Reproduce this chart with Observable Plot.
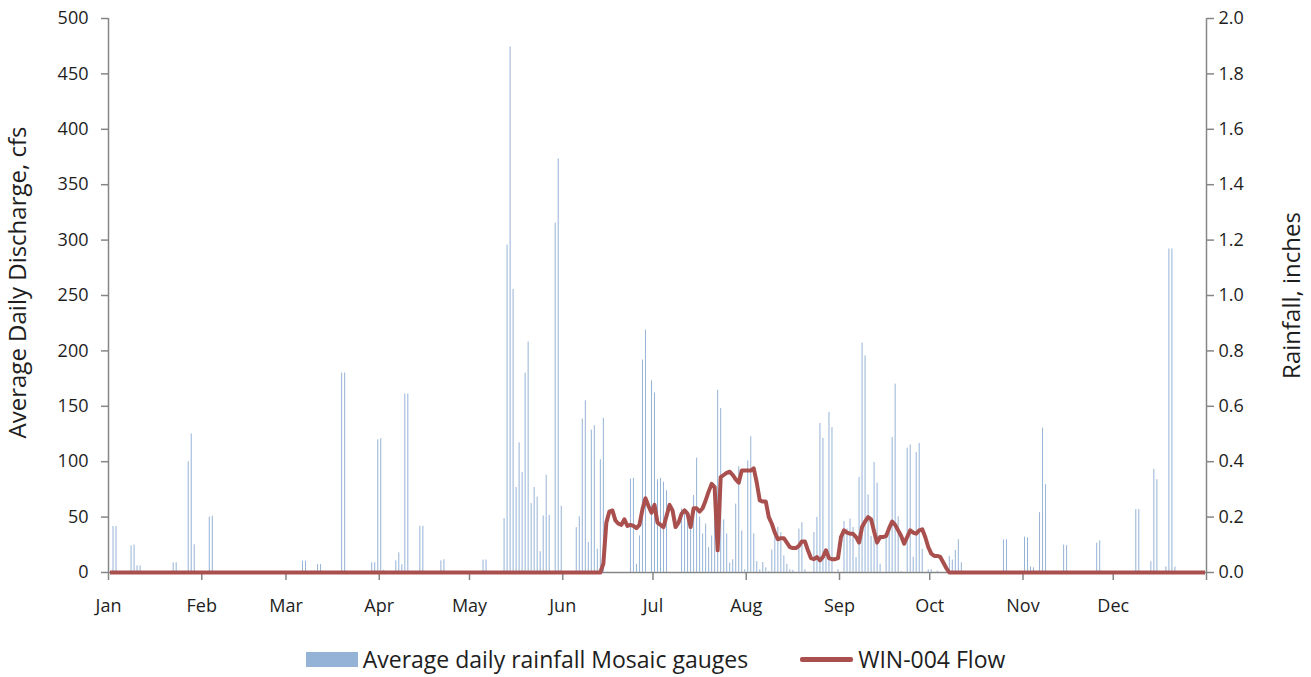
<!DOCTYPE html>
<html>
<head>
<meta charset="utf-8">
<script src="https://cdn.jsdelivr.net/npm/d3@7"></script>
<script src="https://cdn.jsdelivr.net/npm/@observablehq/plot@0.6"></script>
<style>
  html, body { margin: 0; padding: 0; background: #fff; }
  #wrap { position: relative; width: 1311px; height: 677px; font-family: "Open Sans", Lato, sans-serif; color: #1e1e1e; }
  .legend { position: absolute; left: 0; top: 645px; width: 1311px; display: flex; justify-content: center; gap: 52px; font-size: 23px; line-height: 28px; }
  .item { display: flex; align-items: center; gap: 5px; }
  .sw-bar { width: 52px; height: 15px; background: #95b3d7; }
  .sw-line { width: 53px; height: 5px; background: #a9504e; border-radius: 2px; }
</style>
</head>
<body>
<div id="wrap"></div>
<script>
// Year of record (non-leap, 365 daily values)
const year = 2015;

// Daily rainfall (inches), Mosaic gauge average; day index 0 = Jan 1, days not listed had no rain
const rainDay = [
  1, 2, 7, 8, 9, 10, 21, 22, 26, 27, 28, 33, 34,
  64, 65, 67, 68, 69, 70, 77, 78, 87, 88, 89, 90, 91, 95, 96, 97, 98, 99, 103, 104, 110, 111,
  124, 125, 131, 132, 133, 134, 135, 136, 137, 138, 139, 140, 141, 142, 143, 144, 145, 146, 148, 149, 150,
  155, 156, 157, 158, 159, 160, 161, 162, 163, 164,
  173, 174, 175, 176, 177, 178, 180, 181, 182, 183, 184, 185,
  190, 191, 192, 193, 194, 195, 196, 197, 198, 199, 200, 201, 202, 203, 204, 205, 206, 207, 208, 209, 210,
  211, 212, 213, 214, 215, 216, 217, 218, 219, 220, 221, 222, 223, 224, 225, 226, 227, 229, 230, 231,
  234, 235, 236, 237, 238, 239, 240, 242, 244, 245, 246, 247, 248, 249, 250, 251, 252, 253, 254, 255, 256,
  258, 259, 260, 261, 262, 263, 265, 266, 267, 268, 269, 270, 272, 273, 275, 279, 280, 281, 282, 283,
  297, 298, 304, 305, 306, 307, 309, 310, 311, 317, 318, 328, 329, 341, 342, 346, 347, 348, 351, 352, 353, 354
];
const rainInches = [
  0.166, 0.166, 0.096, 0.099, 0.024, 0.024, 0.035, 0.035, 0.40, 0.50, 0.10, 0.20, 0.203,
  0.041, 0.041, 0.005, 0.005, 0.029, 0.029, 0.72, 0.72, 0.035, 0.035, 0.479, 0.483, 0.008, 0.042, 0.071, 0.028, 0.644, 0.644, 0.167, 0.167, 0.042, 0.046,
  0.045, 0.045, 0.195, 1.182, 1.897, 1.022, 0.307, 0.468, 0.361, 0.719, 0.832, 0.249, 0.307, 0.272, 0.075, 0.204, 0.351, 0.206, 1.261, 1.493, 0.239,
  0.162, 0.201, 0.554, 0.62, 0.108, 0.514, 0.53, 0.084, 0.407, 0.557,
  0.337, 0.34, 0.03, 0.132, 0.767, 0.875, 0.692, 0.648, 0.335, 0.34, 0.326, 0.295,
  0.229, 0.229, 0.221, 0.193, 0.278, 0.413, 0.2, 0.139, 0.175, 0.09, 0.132, 0.253, 0.658, 0.592, 0.19, 0.139, 0.034, 0.046, 0.247, 0.382, 0.15,
  0.01, 0.403, 0.49, 0.139, 0.039, 0.01, 0.036, 0.017, 0.003, 0.081, 0.139, 0.163, 0.144, 0.06, 0.03, 0.01, 0.008, 0.157, 0.18, 0.01,
  0.144, 0.199, 0.538, 0.484, 0.055, 0.578, 0.523, 0.01, 0.184, 0.157, 0.193, 0.163, 0.054, 0.343, 0.828, 0.782, 0.28, 0.13, 0.397, 0.323, 0.03,
  0.13, 0.144, 0.487, 0.68, 0.201, 0.003, 0.449, 0.46, 0.055, 0.433, 0.466, 0.084, 0.01, 0.01, 0.005, 0.058, 0.045, 0.08, 0.118, 0.035,
  0.118, 0.118, 0.128, 0.125, 0.02, 0.017, 0.216, 0.521, 0.317, 0.099, 0.097, 0.106, 0.114, 0.227, 0.227, 0.039, 0.373, 0.335, 0.02, 1.168, 1.168, 0.02
];

// WIN-004 average daily discharge (cfs) from day index flowStartDay onward; zero flow on all other days
const flowStartDay = 163;
const flowCfs = [
  0, 8, 45, 55, 56, 47, 44, 43, 48, 42, 43, 42, 40, 43, 57, 67, 60, 54, 61, 45,
  43, 41, 51, 61, 56, 41, 45, 53, 56, 53, 41, 58, 58, 55, 58, 65, 73, 80, 77, 20,
  86, 88, 90, 91, 88, 84, 81, 92, 92, 92, 92, 94, 81, 65, 64, 64, 50, 44, 36, 30,
  31, 31, 27, 23, 22, 22, 24, 28, 28, 20, 13, 12, 14, 11, 14, 20, 13, 12, 12, 13,
  32, 38, 36, 35, 35, 32, 27, 41, 46, 50, 48, 37, 27, 32, 32, 33, 40, 46, 43, 38,
  33, 26, 32, 38, 36, 35, 38, 39, 32, 23, 17, 15, 15, 14, 9, 4, 0
];

// Axis ticks and labels
const monthLabels = ["Jan", "Feb", "Mar", "Apr", "May", "Jun", "Jul", "Aug", "Sep", "Oct", "Nov", "Dec"];
const dischargeTicks = [0, 50, 100, 150, 200, 250, 300, 350, 400, 450, 500];
const rainfallTicks = [0, 0.2, 0.4, 0.6, 0.8, 1.0, 1.2, 1.4, 1.6, 1.8, 2.0];
const cfsPerInch = 250; // 2.0 in on the right axis spans the same height as 500 cfs on the left

const yearStart = new Date(Date.UTC(year, 0, 1));
const yearEnd = new Date(Date.UTC(year + 1, 0, 1));
const nDays = 365;
const dayDate = i => new Date(Date.UTC(year, 0, 1 + i, 12));

const rain = rainDay.map((d, k) => ({date: dayDate(d), inches: rainInches[k]}));
const flow = d3.range(nDays).map(i => {
  const k = i - flowStartDay;
  return {date: dayDate(i), cfs: k >= 0 && k < flowCfs.length ? flowCfs[k] : 0};
});

const axisGray = "#868686";
const textColor = "#1e1e1e";
const font = "'Open Sans', Lato, sans-serif";
const tickFont = 18;
const titleFont = 24;

const chart = Plot.plot({
  width: 1311,
  height: 630,
  marginTop: 18,
  marginBottom: 58,
  marginLeft: 108,
  marginRight: 105,
  style: {fontFamily: font, fontSize: tickFont + "px", color: textColor, background: "#fff"},
  x: {type: "utc", domain: [yearStart, yearEnd]},
  y: {domain: [0, 500]},
  marks: [
    // frame edges: left and right value axes, date axis
    Plot.ruleX([yearStart, yearEnd], {stroke: axisGray, strokeWidth: 1.5}),
    Plot.ruleY([0], {stroke: axisGray, strokeWidth: 1.5}),
    Plot.axisY({
      anchor: "left", ticks: dischargeTicks, tickSize: 7, tickPadding: 13,
      stroke: axisGray, fill: textColor, strokeWidth: 1.5, label: null, fontSize: tickFont
    }),
    Plot.axisY({
      anchor: "right", ticks: rainfallTicks.map(v => v * cfsPerInch), tickSize: 7, tickPadding: 5,
      tickFormat: v => (v / cfsPerInch).toFixed(1),
      stroke: axisGray, fill: textColor, strokeWidth: 1.5, label: null, fontSize: tickFont
    }),
    Plot.axisX({
      ticks: d3.utcMonths(yearStart, new Date(Date.UTC(year + 1, 0, 2))),
      tickFormat: d => d.getUTCFullYear() === year ? monthLabels[d.getUTCMonth()] : "",
      tickSize: 8, tickPadding: 19, stroke: axisGray, fill: textColor, strokeWidth: 1.5,
      label: null, fontSize: tickFont
    }),
    // daily rainfall, drawn against the right (inches) axis
    Plot.ruleX(rain, {x: "date", y1: 0, y2: d => d.inches * cfsPerInch, stroke: "#95b3d7", strokeWidth: 1}),
    // daily discharge
    Plot.line(flow, {x: "date", y: "cfs", stroke: "#a9504e", strokeWidth: 4, strokeLinejoin: "round", strokeLinecap: "butt"}),
    // axis titles
    Plot.text(["Average Daily Discharge, cfs"], {frameAnchor: "left", dx: -90, dy: -13, rotate: -90, fontSize: titleFont, fill: textColor, textAnchor: "middle"}),
    Plot.text(["Rainfall, inches"], {frameAnchor: "right", dx: 86, rotate: -90, fontSize: titleFont, fill: textColor, textAnchor: "middle"})
  ]
});

const wrap = document.getElementById("wrap");
wrap.appendChild(chart);

const legend = document.createElement("div");
legend.className = "legend";
legend.innerHTML =
  '<div class="item"><span class="sw-bar"></span><span>Average daily rainfall Mosaic gauges</span></div>' +
  '<div class="item"><span class="sw-line"></span><span>WIN-004 Flow</span></div>';
wrap.appendChild(legend);
</script>
</body>
</html>
